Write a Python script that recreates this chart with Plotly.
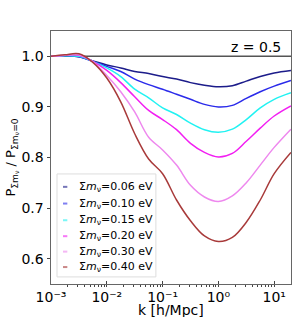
import plotly.graph_objects as go

log_k = [-3, -2.75, -2.5, -2.25, -2, -1.75, -1.5, -1.25, -1, -0.75, -0.5, -0.25, 0, 0.25, 0.5, 0.75, 1, 1.3]
k = [10 ** v for v in log_k]

labels = ["0.06", "0.10", "0.15", "0.20", "0.30", "0.40"]
ratio_006 = [1.0, 1.001, 0.999, 0.991, 0.983, 0.977, 0.970, 0.966, 0.960, 0.955, 0.948, 0.943, 0.940, 0.942, 0.951, 0.960, 0.967, 0.972]
ratio_010 = [1.0, 1.001, 0.999, 0.990, 0.980, 0.970, 0.955, 0.944, 0.935, 0.925, 0.915, 0.905, 0.900, 0.903, 0.917, 0.930, 0.941, 0.952]
ratio_015 = [1.0, 1.001, 1.000, 0.990, 0.977, 0.960, 0.935, 0.918, 0.898, 0.885, 0.868, 0.855, 0.850, 0.856, 0.875, 0.898, 0.915, 0.928]
ratio_020 = [1.0, 1.002, 1.002, 0.990, 0.972, 0.948, 0.920, 0.893, 0.875, 0.855, 0.828, 0.810, 0.801, 0.808, 0.832, 0.858, 0.882, 0.902]
ratio_030 = [1.0, 1.002, 1.003, 0.989, 0.962, 0.930, 0.890, 0.840, 0.815, 0.785, 0.745, 0.722, 0.713, 0.724, 0.750, 0.785, 0.820, 0.856]
ratio_040 = [1.0, 1.003, 1.005, 0.988, 0.957, 0.910, 0.847, 0.797, 0.768, 0.716, 0.675, 0.645, 0.634, 0.642, 0.672, 0.716, 0.768, 0.810]
series = [ratio_006, ratio_010, ratio_015, ratio_020, ratio_030, ratio_040]
colors = ["#1c1c8a", "#2b2bea", "#22f2f2", "#f21ff2", "#ee88ee", "#a83a3a"]

ref_k = [1e-3, 20]
ref_val = [1.0, 1.0]

x_tickvals = [1e-3, 1e-2, 1e-1, 1, 10]
x_ticktext = ["10⁻³", "10⁻²", "10⁻¹", "10⁰", "10¹"]

fig = go.Figure()
fig.add_trace(go.Scatter(x=ref_k, y=ref_val, mode="lines",
                         line=dict(color="#555555", width=1.5), showlegend=False))
for lab, vals, c in zip(labels, series, colors):
    fig.add_trace(go.Scatter(x=k, y=vals, mode="lines", line=dict(color=c, width=1.5, shape="spline"),
                             showlegend=False))

# custom compact legend (box, short swatches, labels)
L_x0, L_x1, L_y0, L_y1 = 0.025, 0.437, 0.028, 0.435
fig.add_shape(type="rect", xref="paper", yref="paper", x0=L_x0, x1=L_x1, y0=L_y0, y1=L_y1,
              line=dict(color="#dddddd", width=1), fillcolor="rgba(255,255,255,0.85)", layer="above")
entry_y = [0.384, 0.318, 0.252, 0.189, 0.128, 0.067]
for lab, c, ey in zip(labels, colors, entry_y):
    fig.add_shape(type="line", xref="paper", yref="paper", x0=0.05, x1=0.068, y0=ey, y1=ey,
                  line=dict(color=c, width=2), opacity=0.6, layer="above")
    fig.add_annotation(text="Σ<i>m</i><sub>ν</sub>=" + lab + " eV", xref="paper", yref="paper",
                       x=0.11, y=ey, xanchor="left", yanchor="middle", showarrow=False,
                       font=dict(size=11, color="black"))

fig.add_annotation(text="z = 0.5", xref="paper", yref="paper", x=0.965, y=0.975,
                   xanchor="right", yanchor="top", showarrow=False,
                   font=dict(size=14, color="black"))

# x-axis title as annotation for precise placement
fig.add_annotation(text="k [h/Mpc]", xref="paper", yref="paper", x=0.5, y=-0.104,
                   xanchor="center", yanchor="middle", showarrow=False,
                   font=dict(size=14, color="black"))

fig.update_xaxes(type="log", range=[-3, 1.301], tickvals=x_tickvals, ticktext=x_ticktext,
                 showgrid=False, zeroline=False, ticks="inside", ticklen=3.5,
                 showline=True, mirror=True, linecolor="#666666", linewidth=1,
                 tickfont=dict(size=14, color="black"), automargin=False,
                 minor=dict(ticks="outside", ticklen=2, dtick="D1", showgrid=False))
fig.update_yaxes(range=[0.55, 1.05], dtick=0.1, tickformat=".1f",
                 showgrid=False, zeroline=False, ticks="outside", ticklen=3.5,
                 showline=True, mirror=True, linecolor="#666666", linewidth=1,
                 tickfont=dict(size=14, color="black"), automargin=False,
                 title=dict(text="P<sub>Σm<sub>ν</sub></sub> / P<sub>Σm<sub>ν</sub>=0</sub>",
                            font=dict(size=13, color="black"), standoff=2))

fig.update_layout(width=298, height=317, margin=dict(l=51, r=7, t=31, b=33),
                  paper_bgcolor="white", plot_bgcolor="white",
                  font=dict(family="DejaVu Sans", color="black"))
fig.write_html("out.html", config={"displayModeBar": False},
               post_script="document.body.style.margin='0';")
